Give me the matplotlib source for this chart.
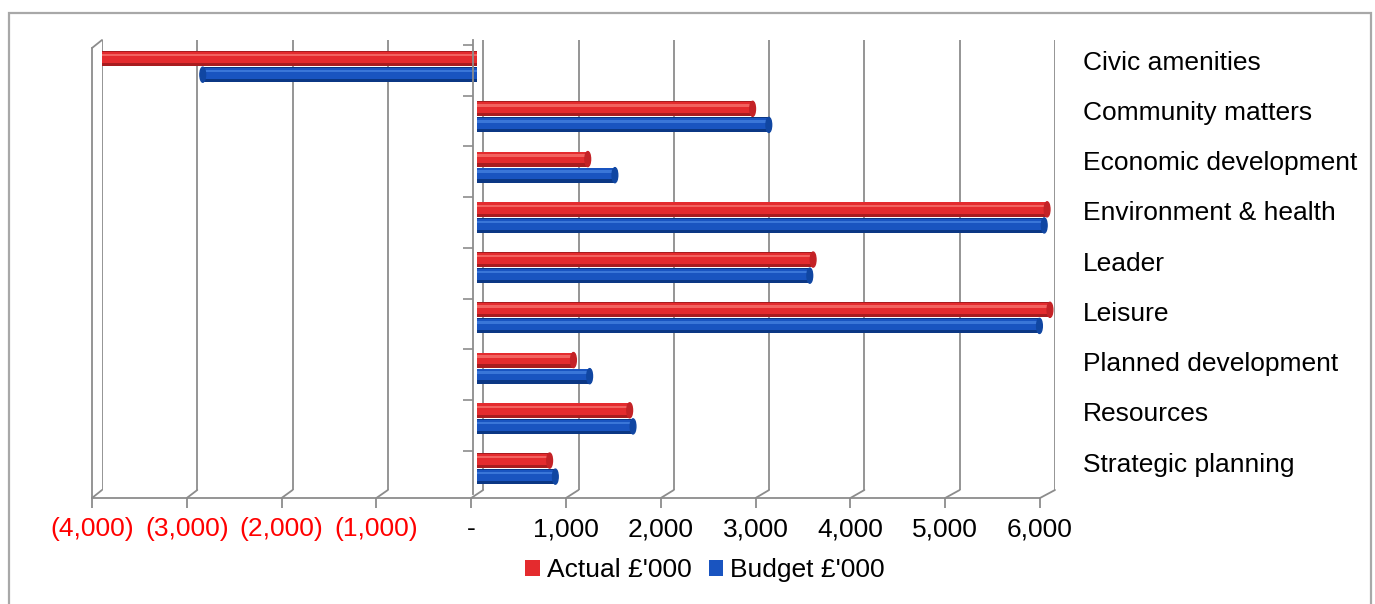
import numpy as np
import matplotlib
matplotlib.use("Agg")
import matplotlib.pyplot as plt
from matplotlib.transforms import ScaledTranslation
from matplotlib.patches import ConnectionPatch, Rectangle, Ellipse

# ---------------- data ----------------
categories = ["Civic amenities", "Community matters", "Economic development",
              "Environment & health", "Leader", "Leisure",
              "Planned development", "Resources", "Strategic planning"]
actual = [-3990, 2890, 1160, 5980, 3525, 6010, 1010, 1600, 760]
budget = [-2880, 3060, 1445, 5950, 3490, 5900, 1180, 1635, 820]
series_names = ["Actual £'000", "Budget £'000"]
x_ticks = [-4000, -3000, -2000, -1000, 0, 1000, 2000, 3000, 4000, 5000, 6000]
x_tick_labels = ["(4,000)", "(3,000)", "(2,000)", "(1,000)", "-", "1,000",
                 "2,000", "3,000", "4,000", "5,000", "6,000"]

# ---------------- style ----------------
plt.rcParams['font.family'] = ['Liberation Sans', 'DejaVu Sans']
FS = 19
W, H = 1375, 604
GRID = '#8c8c8c'

fig = plt.figure(figsize=(W / 100, H / 100), dpi=100)


def rect(l, t, r, b):
    return [l / W, 1 - b / H, (r - l) / W, (b - t) / H]


# outer frame
fig.add_artist(Rectangle((9 / W, -0.02), (1371 - 9) / W, 1 - 13 / H + 0.02,
                         transform=fig.transFigure, fill=False,
                         ec='#a8a8a8', lw=1.6, clip_on=False))

# back plane axes (gridlines, bars)
ax = fig.add_axes(rect(102, 40, 1055, 490))
ax.patch.set_visible(False)
for s in ax.spines.values():
    s.set_visible(False)

n = len(categories)
idx = np.arange(n)
ylim = (8.356, -0.6)

shift = ax.transData + ScaledTranslation(-6 / 100, 0, fig.dpi_scale_trans)

h = 0.30
styles = [
    dict(off=-0.23, dark='#a81c1f', body='#e42b2e', hi='#f2625f', cap='#c42226'),
    dict(off=0.09, dark='#0b3784', body='#1954c0', hi='#3a76d8', cap='#1046a2'),
]
handles = []
for vals, st in zip([actual, budget], styles):
    yc = idx + st['off']
    ax.barh(yc, vals, height=h, color=st['dark'], transform=shift, zorder=3)
    bc = ax.barh(yc - 0.025, vals, height=h * 0.74, color=st['body'],
                 transform=shift, zorder=4)
    ax.barh(yc - 0.07, vals, height=h * 0.16, color=st['hi'],
            transform=shift, zorder=5)
    handles.append(bc)
    for y, v in zip(yc, vals):
        ax.add_patch(Ellipse((v, y), 60, h, color=st['cap'], transform=shift,
                             zorder=6))

ax.set_xlim(-4000, 6000)
ax.set_ylim(*ylim)
ax.set_xticks(x_ticks)
ax.tick_params(axis='x', length=0, labelbottom=False)
ax.grid(axis='x', color=GRID, lw=1.3, zorder=0)
ax.set_yticks(idx - 0.2, categories)
ax.tick_params(axis='y', left=False, labelleft=False, right=True,
               labelright=True, length=0, pad=20, labelsize=FS)

# front floor edge axes
axf = fig.add_axes(rect(92, 48, 1040, 498))
axf.patch.set_visible(False)
axf.set_xlim(-4000, 6000)
axf.set_ylim(0, 1)
for k in ['top', 'right']:
    axf.spines[k].set_visible(False)
for k in ['bottom', 'left']:
    axf.spines[k].set_color(GRID)
    axf.spines[k].set_linewidth(1.3)
axf.set_yticks([])
axf.set_xticks(x_ticks, x_tick_labels)
axf.tick_params(axis='x', direction='out', length=7, width=1.3, color=GRID,
                labelsize=FS, pad=7)
for lab, v in zip(axf.get_xticklabels(), x_ticks):
    lab.set_color('#ff0000' if v < 0 else 'black')

# connectors back->front (floor and top-left corner)
for v in x_ticks:
    fig.add_artist(ConnectionPatch(xyA=(v, 0), coordsA=ax.get_xaxis_transform(),
                                   xyB=(v, 0), coordsB=axf.get_xaxis_transform(),
                                   color=GRID, lw=1.3))
fig.add_artist(ConnectionPatch(xyA=(-4000, 1), coordsA=ax.get_xaxis_transform(),
                               xyB=(-4000, 1), coordsB=axf.get_xaxis_transform(),
                               color=GRID, lw=1.3))

# category axis at zero
axc = fig.add_axes(rect(473, 40, 474, 494))
axc.patch.set_visible(False)
for k in ['top', 'right', 'bottom']:
    axc.spines[k].set_visible(False)
axc.spines['left'].set_color(GRID)
axc.spines['left'].set_linewidth(1.3)
axc.set_ylim(*ylim)
axc.set_xticks([])
axc.set_yticks(np.arange(-0.5, n - 0.5))
axc.tick_params(axis='y', direction='out', length=7, width=1.2, color=GRID,
                labelleft=False)

# legend
fig.legend(handles, series_names, loc='center',
           bbox_to_anchor=(705 / W, 1 - 570 / H), ncol=2, frameon=False,
           fontsize=FS, handlelength=0.55, handleheight=0.55,
           handletextpad=0.27, columnspacing=0.64)

fig.savefig('out.png', dpi=100)
